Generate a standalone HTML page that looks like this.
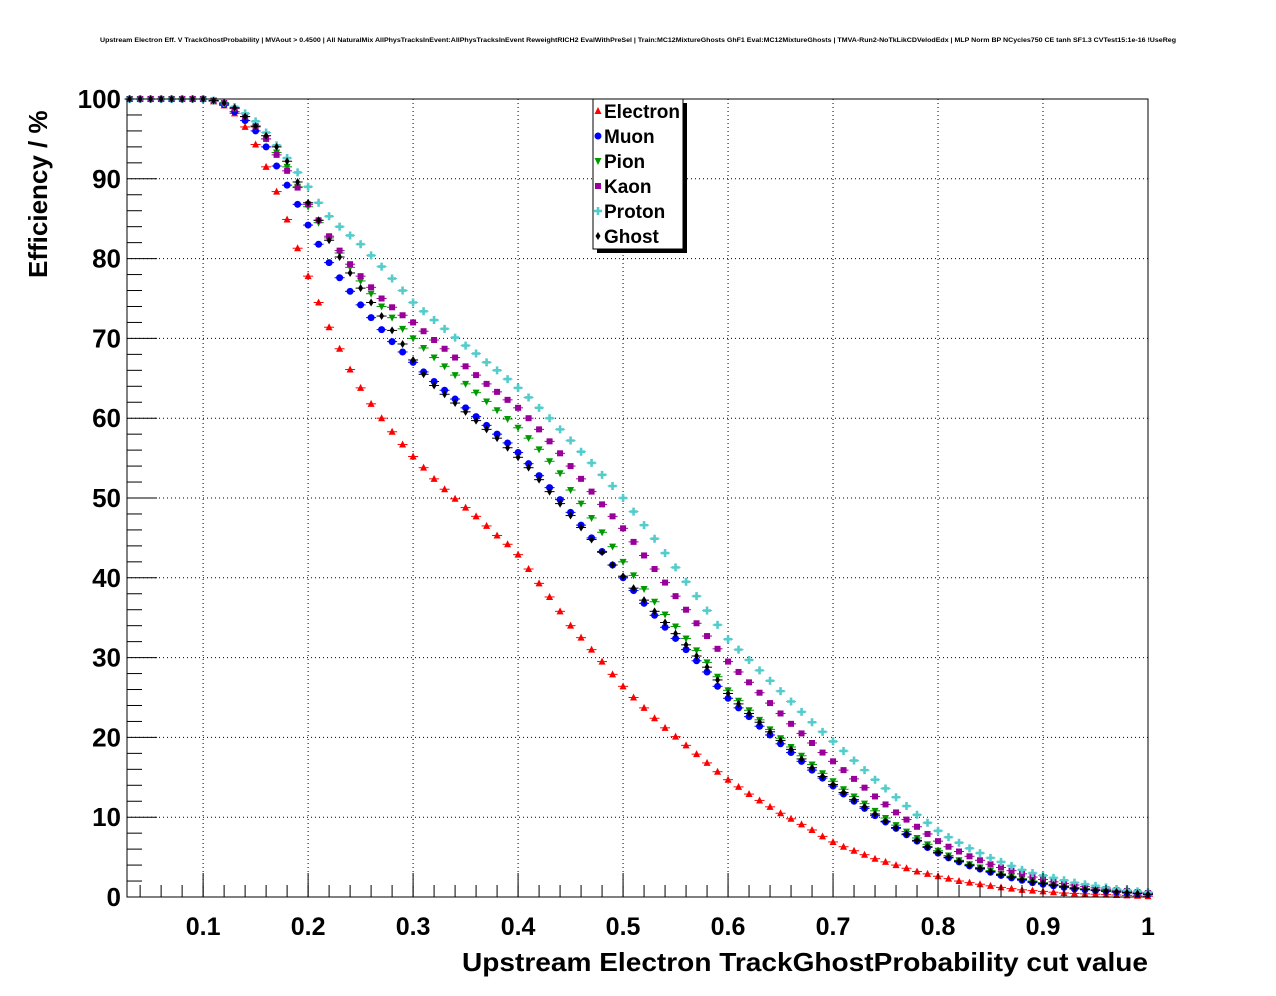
<!DOCTYPE html>
<html><head><meta charset="utf-8"><style>
body{margin:0;background:#fff;}
svg{display:block;font-family:"Liberation Sans",sans-serif;}
</style></head><body>
<svg id="chart" width="1276" height="996" viewBox="0 0 1276 996" xmlns="http://www.w3.org/2000/svg">
<rect width="1276" height="996" fill="#fff"/>
<text x="100" y="42" font-size="6.5" font-weight="bold" textLength="1076" lengthAdjust="spacingAndGlyphs">Upstream Electron Eff. V TrackGhostProbability | MVAout &gt; 0.4500 | All NaturalMix AllPhysTracksInEvent:AllPhysTracksInEvent ReweightRICH2 EvalWithPreSel | Train:MC12MixtureGhosts GhF1 Eval:MC12MixtureGhosts | TMVA-Run2-NoTkLikCDVelodEdx | MLP Norm BP NCycles750 CE tanh SF1.3 CVTest15:1e-16 !UseReg</text>
<g id="grid"></g>
<g id="marks"></g>
<g id="axes"></g>
<text transform="translate(47,278) rotate(-90)" font-size="26" font-weight="bold">Efficiency / %</text>
<text x="462" y="971" font-size="26" font-weight="bold" textLength="686" lengthAdjust="spacingAndGlyphs">Upstream Electron TrackGhostProbability cut value</text>
<g id="legend"></g>
</svg>
<script>
const seriesNames = ["Electron","Muon","Pion","Kaon","Proton","Ghost"];
const yTicks = [0,10,20,30,40,50,60,70,80,90,100];
const xTicks = [0.1,0.2,0.3,0.4,0.5,0.6,0.7,0.8,0.9,1];
const xTickLabels = ["0.1","0.2","0.3","0.4","0.5","0.6","0.7","0.8","0.9","1"];
const head = [100,100,100,100,100,100,100,100];
const electron = head.concat([99.7,99.2,98.2,96.5,94.3,91.5,88.4,84.9,81.3,77.8,74.5,71.4,68.7,66.1,63.8,61.8,60.0,58.3,56.7,55.2,53.8,52.4,51.1,49.9,48.8,47.7,46.5,45.3,44.2,42.9,41.1,39.3,37.6,35.8,34.0,32.5,31.0,29.5,27.9,26.4,25.0,23.7,22.4,21.2,20.1,19.0,17.9,16.8,15.7,14.7,13.8,12.9,12.1,11.3,10.5,9.8,9.1,8.4,7.6,6.9,6.3,5.8,5.3,4.8,4.4,4.0,3.6,3.2,2.9,2.6,2.3,2.0,1.8,1.6,1.4,1.2,1.05,0.9,0.8,0.7,0.6,0.5,0.45,0.4,0.35,0.3,0.25,0.2,0.15,0.1]);
const muon = head.concat([99.8,99.3,98.4,97.3,96.0,94.0,91.6,89.2,86.8,84.2,81.8,79.5,77.6,75.9,74.2,72.6,71.1,69.6,68.3,67.0,65.8,64.6,63.5,62.4,61.3,60.2,59.1,58.0,56.9,55.7,54.3,52.8,51.3,49.8,48.2,46.6,45.0,43.3,41.6,40.0,38.4,36.8,35.3,33.8,32.4,31.0,29.6,28.2,26.4,24.9,23.7,22.6,21.4,20.3,19.2,18.1,17.0,15.9,14.9,13.9,12.9,12.0,11.1,10.2,9.4,8.6,7.8,7.0,6.2,5.5,4.9,4.4,3.9,3.5,3.1,2.7,2.4,2.1,1.8,1.6,1.4,1.2,1.0,0.9,0.8,0.7,0.6,0.5,0.4,0.3]);
const pion = head.concat([99.8,99.4,98.8,97.8,96.5,95.0,93.3,91.5,89.0,86.5,84.5,82.6,80.7,78.9,77.2,75.6,74.0,72.6,71.2,70.0,68.8,67.6,66.5,65.4,64.3,63.2,62.1,61.0,59.9,58.8,57.5,56.1,54.6,53.1,51.0,49.3,47.5,45.7,43.9,42.0,40.3,38.6,37.0,35.4,33.9,32.4,30.9,29.4,27.6,25.9,24.6,23.4,22.2,21.0,19.9,18.8,17.7,16.6,15.5,14.5,13.5,12.6,11.7,10.8,9.9,9.0,8.2,7.4,6.6,5.8,5.2,4.6,4.1,3.7,3.3,2.9,2.6,2.3,2.0,1.8,1.6,1.4,1.2,1.05,0.95,0.85,0.75,0.65,0.5,0.4]);
const kaon = head.concat([99.8,99.5,98.8,97.8,96.6,95.0,93.0,91.0,88.9,86.8,84.8,82.8,81.0,79.3,77.8,76.4,75.0,73.9,72.9,72.0,70.9,69.8,68.7,67.6,66.5,65.4,64.3,63.3,62.3,61.3,60.0,58.6,57.1,55.6,54.0,52.4,50.8,49.2,47.7,46.2,44.5,42.8,41.1,39.4,37.7,36.0,34.3,32.7,31.1,29.5,28.2,26.9,25.6,24.3,23.0,21.7,20.5,19.3,18.1,17.0,15.9,14.8,13.7,12.6,11.6,10.6,9.7,8.8,7.9,7.0,6.3,5.7,5.1,4.6,4.1,3.7,3.3,2.9,2.5,2.2,1.9,1.7,1.5,1.3,1.15,1.0,0.85,0.75,0.6,0.5]);
const proton = head.concat([99.8,99.5,99.0,98.2,97.2,95.8,94.2,92.6,90.8,89.0,87.0,85.3,84.0,82.9,81.8,80.4,79.0,77.5,76.0,74.5,73.4,72.3,71.2,70.1,69.1,68.1,67.0,66.0,64.9,63.8,62.6,61.3,60.0,58.6,57.2,55.8,54.4,52.9,51.5,50.0,48.3,46.6,44.9,43.1,41.3,39.5,37.7,35.9,34.1,32.3,31.0,29.7,28.4,27.1,25.8,24.5,23.2,21.9,20.7,19.5,18.3,17.1,15.9,14.7,13.6,12.5,11.4,10.3,9.3,8.3,7.5,6.8,6.1,5.5,4.9,4.4,3.9,3.4,3.0,2.7,2.4,2.1,1.8,1.6,1.4,1.2,1.0,0.85,0.7,0.6]);
const ghost = head.concat([99.8,99.5,98.9,97.8,96.6,95.4,94.0,92.2,89.6,87.0,84.8,82.3,80.2,78.2,76.3,74.5,72.8,71.0,69.3,67.3,65.5,64.1,63.0,61.9,60.8,59.7,58.6,57.5,56.3,55.1,53.8,52.3,50.8,49.3,47.8,46.3,44.8,43.2,41.6,40.2,38.7,37.2,35.8,34.4,33.0,31.6,30.2,28.8,27.2,25.5,24.2,23.0,21.9,20.7,19.6,18.5,17.3,16.2,15.1,14.1,13.1,12.2,11.3,10.4,9.5,8.7,7.9,7.1,6.3,5.6,5.0,4.5,4.0,3.6,3.2,2.8,2.5,2.2,1.9,1.7,1.5,1.3,1.1,0.95,0.85,0.75,0.65,0.55,0.45,0.35]);
const cuts = [];
for (let i = 0; i < 98; i++) cuts.push(Math.round((0.03 + i * 0.01) * 100) / 100);

const X0 = 127, X1 = 1148, Y0 = 897, Y1 = 99, XMIN = 0.0275, XMAX = 1, YMIN = 0, YMAX = 100;
const sx = v => X0 + (v - XMIN) / (XMAX - XMIN) * (X1 - X0);
const sy = v => Y0 - (v - YMIN) / (YMAX - YMIN) * (Y0 - Y1);
const NS = "http://www.w3.org/2000/svg";
function mk(tag, attrs, parent) {
  const e = document.createElementNS(NS, tag);
  for (const k in attrs) e.setAttribute(k, attrs[k]);
  parent.appendChild(e);
  return e;
}
const grid = document.getElementById('grid'), axes = document.getElementById('axes'), marks = document.getElementById('marks'), legend = document.getElementById('legend');

xTicks.forEach((t, i) => {
  if (t < 1) {
    const g = mk('line', {x1: sx(t), x2: sx(t), y1: Y1, y2: Y0, stroke: '#000', 'stroke-width': 1, 'stroke-dasharray': '1,3'}, grid);
    
    
  }
  const lb = mk('text', {x: sx(t), y: 935, 'font-size': 25, 'font-weight': 'bold', 'text-anchor': 'middle'}, axes);
  lb.textContent = xTickLabels[i];
  
  
  mk('line', {x1: sx(t), x2: sx(t), y1: Y0, y2: Y0 - 24, stroke: '#000'}, axes);
});
for (let v = 0.04; v < 1; v += 0.02) {
  mk('line', {x1: sx(v), x2: sx(v), y1: Y0, y2: Y0 - 12, stroke: '#000'}, axes);
}
yTicks.forEach(t => {
  if (t > 0 && t < 100) {
    const g = mk('line', {x1: X0, x2: X1, y1: sy(t), y2: sy(t), stroke: '#000', 'stroke-width': 1, 'stroke-dasharray': '1,3'}, grid);
    
    
  }
  const lb = mk('text', {x: 121, y: sy(t) + 9, 'font-size': 26, 'font-weight': 'bold', 'text-anchor': 'end'}, axes);
  lb.textContent = String(t);
  
  
  mk('line', {x1: X0, x2: X0 + 30, y1: sy(t), y2: sy(t), stroke: '#000'}, axes);
});
for (let v = 2; v < 100; v += 2) {
  if (v % 10) mk('line', {x1: X0, x2: X0 + 15, y1: sy(v), y2: sy(v), stroke: '#000'}, axes);
}
const frame = mk('rect', {x: X0, y: Y1, width: X1 - X0, height: Y0 - Y1, fill: 'none', stroke: '#000', 'stroke-width': 1}, axes);



const colors = ['#ff0000', '#0000ff', '#009900', '#990099', '#55cccc', '#000000'];
const data = [electron, muon, pion, kaon, proton, ghost];
function marker(kind, x, y, c, parent) {
  if (kind === 0) return mk('polygon', {points: `${x},${y-4} ${x-3.5},${y+3} ${x+3.5},${y+3}`, fill: c}, parent);
  if (kind === 1) return mk('circle', {cx: x, cy: y, r: 3.5, fill: c}, parent);
  if (kind === 2) return mk('polygon', {points: `${x-3.5},${y-3} ${x+3.5},${y-3} ${x},${y+4}`, fill: c}, parent);
  if (kind === 3) return mk('rect', {x: x - 3, y: y - 3, width: 6, height: 6, fill: c}, parent);
  if (kind === 4) return mk('path', {d: `M${x-4},${y-1.3}h2.7v-2.7h2.6v2.7h2.7v2.6h-2.7v2.7h-2.6v-2.7h-2.7z`, fill: c}, parent);
  return mk('polygon', {points: `${x},${y-4} ${x+2.5},${y} ${x},${y+4} ${x-2.5},${y}`, fill: c}, parent);
}
data.forEach((arr, s) => {
  const g = mk('g', {}, marks);
  
  
  cuts.forEach((c, i) => {
    if (i >= arr.length) return;
    const x = sx(c), y = sy(arr[i]);
    mk('line', {x1: x - 5, x2: x + 5, y1: y, y2: y, stroke: colors[s], 'stroke-width': 1}, g);
    const m = marker(s, x, y, colors[s], g);
    
    
  });
});

mk('rect', {x: 597, y: 103, width: 90, height: 150, fill: '#000'}, legend);
mk('rect', {x: 593, y: 99, width: 90, height: 150, fill: '#fff', stroke: '#000'}, legend);
seriesNames.forEach((n, i) => {
  const y = 111 + i * 25;
  const ent = mk('g', {}, legend);
  
  
  marker(i, 598, y, colors[i], ent);
  const t = mk('text', {x: 604, y: y + 7, 'font-size': 19, 'font-weight': 'bold'}, ent);
  t.textContent = n;
});
</script>
</body></html>
